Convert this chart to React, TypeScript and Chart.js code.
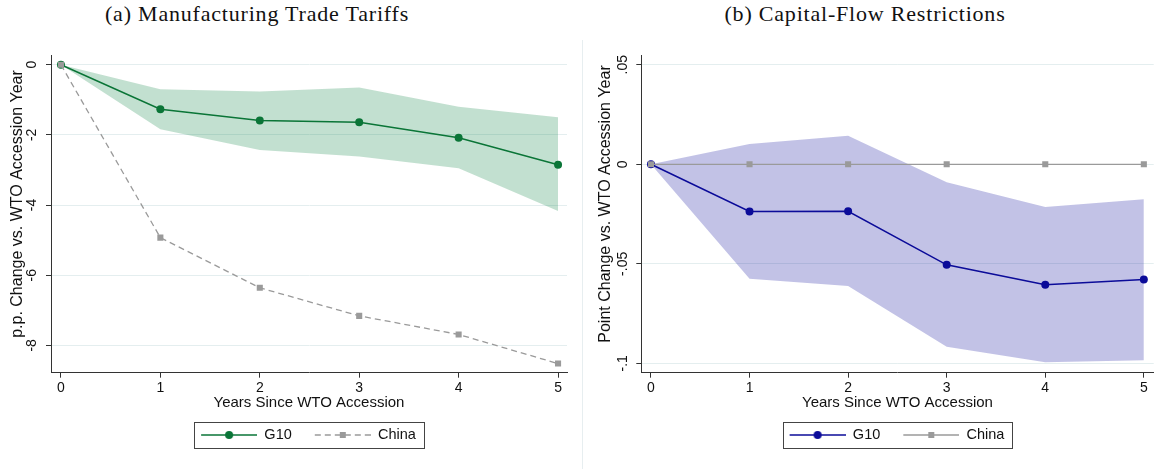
import React, { useEffect, useRef } from 'react';
import { Chart, registerables } from 'chart.js';

Chart.register(...registerables);

// ---------------- data ----------------
const years = [0, 1, 2, 3, 4, 5];

const tariffG10 = [0, -1.27, -1.59, -1.64, -2.08, -2.85];
const tariffG10Upper = [0, -0.7, -0.76, -0.65, -1.2, -1.5];
const tariffG10Lower = [0, -1.84, -2.43, -2.62, -2.95, -4.17];
const tariffChina = [0, -4.93, -6.36, -7.16, -7.69, -8.52];
const tariffTicks = [0, -2, -4, -6, -8];
const tariffTickLabels = ['0', '-2', '-4', '-6', '-8'];

const capitalG10 = [0, -0.0237, -0.0236, -0.0505, -0.0605, -0.0579];
const capitalG10Upper = [0, 0.0102, 0.0143, -0.009, -0.0214, -0.0176];
const capitalG10Lower = [0, -0.0575, -0.0611, -0.0917, -0.0994, -0.0984];
const capitalChina = [0, 0, 0, 0, 0, 0];
const capitalTicks = [0.05, 0, -0.05, -0.1];
const capitalTickLabels = ['.05', '0', '-.05', '-.1'];

const seriesLabels = ['G10', 'China'];
const xTitle = 'Years Since WTO Accession';

// ---------------- style ----------------
const SANS = '"Liberation Sans", Arial, Helvetica, sans-serif';
const SERIF = '"Liberation Serif", "Times New Roman", serif';
const TEXT = '#111111';
const AXIS = '#333333';
const GRID = '#e4eeef';
const GRAY = '#9a9a9a';
const LEGEND_PAD = 15;
const LEGEND_FONT = 14.5;
const MARK_W = 64;

function makeMarker(color: string, dash: number[], shape: 'circle' | 'square') {
  const c = document.createElement('canvas');
  c.width = MARK_W;
  c.height = 12;
  const ctx = c.getContext('2d')!;
  ctx.strokeStyle = color;
  ctx.lineWidth = 1.4;
  ctx.setLineDash(dash);
  ctx.beginPath();
  ctx.moveTo(8, 6);
  ctx.lineTo(MARK_W, 6);
  ctx.stroke();
  ctx.setLineDash([]);
  ctx.fillStyle = color;
  const cx = 8 + (MARK_W - 8) / 2;
  if (shape === 'circle') {
    ctx.beginPath();
    ctx.arc(cx, 6, 4, 0, Math.PI * 2);
    ctx.fill();
  } else {
    ctx.fillRect(cx - 3, 3, 6, 6);
  }
  return c;
}

const legendBoxPlugin = {
  id: 'legendBox',
  afterLayout(chart: any) {
    const lg = chart.legend;
    if (!lg || !lg.lineWidths) return;
    const lw = lg.lineWidths[0];
    const wc = lw - LEGEND_PAD;
    const cx = (chart.chartArea.left + chart.chartArea.right) / 2;
    const start = cx - (wc + 9) / 2;
    const cur = (lg.left + LEGEND_PAD + (lg.right - lw)) / 2;
    const d = start - cur;
    lg.left += d;
    lg.right += d;
  },
  afterDraw(chart: any) {
    const lg = chart.legend;
    if (!lg || !lg.lineWidths) return;
    const lw = lg.lineWidths[0];
    const wc = lw - LEGEND_PAD;
    const start = (lg.left + LEGEND_PAD + (lg.right - lw)) / 2;
    const x0 = Math.round(start + 1) + 0.5;
    const x1 = Math.round(start + wc + 8) + 0.5;
    const cy = lg.top + LEGEND_PAD + LEGEND_FONT / 2;
    const y0 = Math.round(cy - 13) + 0.5;
    const ctx = chart.ctx;
    ctx.save();
    ctx.strokeStyle = '#444';
    ctx.lineWidth = 1;
    ctx.strokeRect(x0, y0, x1 - x0, 26);
    ctx.restore();
  },
};

const yTitlePlugin = {
  id: 'yTitleText',
  afterDraw(chart: any, _args: any, opts: any) {
    if (!opts || !opts.text) return;
    const ctx = chart.ctx;
    ctx.save();
    ctx.translate(opts.x, opts.y);
    ctx.rotate(-Math.PI / 2);
    ctx.font = `16px ${SANS}`;
    ctx.fillStyle = TEXT;
    ctx.textAlign = 'center';
    ctx.textBaseline = 'middle';
    ctx.fillText(opts.text, 0, 0);
    ctx.restore();
  },
};

type PanelProps = {
  left: number;
  width: number;
  title: string;
  titleCenter: number;
  yTitle: string;
  yTitleX: number;
  g10: number[];
  upper: number[];
  lower: number[];
  china: number[];
  yTicks: number[];
  yLabels: string[];
  yMin: number;
  yMax: number;
  xMin: number;
  xMax: number;
  lineColor: string;
  fillColor: string;
  chinaDash: number[];
  yAxisWidth: number;
  padRight: number;
  yTickPad: number;
};

function Panel(p: PanelProps) {
  const ref = useRef<HTMLCanvasElement>(null);
  useEffect(() => {
    if (!ref.current) return;
    const pts = (arr: number[]) => years.map((x, i) => ({ x, y: arr[i] }));
    const font = { family: SANS, size: 14 };
    const g10Marker = makeMarker(p.lineColor, [], 'circle');
    const chinaMarker = makeMarker(GRAY, p.chinaDash, 'square');
    const chart = new Chart(ref.current, {
      type: 'line',
      data: {
        datasets: [
          {
            label: seriesLabels[0],
            data: pts(p.g10),
            borderColor: p.lineColor,
            backgroundColor: p.lineColor,
            borderWidth: 1.5,
            pointRadius: 4,
            pointStyle: 'circle',
            pointBorderWidth: 0,
            fill: false,
            order: 1,
          },
          {
            label: seriesLabels[1],
            data: pts(p.china),
            borderColor: GRAY,
            backgroundColor: GRAY,
            borderWidth: 1.3,
            borderDash: p.chinaDash,
            pointRadius: 4.3,
            pointStyle: 'rect',
            pointBorderWidth: 0,
            fill: false,
            order: 0,
          },
          {
            label: 'lower',
            data: pts(p.lower),
            borderColor: 'rgba(0,0,0,0)',
            borderWidth: 1,
            pointRadius: 0,
            fill: false,
            order: 2,
          },
          {
            label: 'upper',
            data: pts(p.upper),
            borderColor: 'rgba(0,0,0,0)',
            backgroundColor: p.fillColor,
            borderWidth: 1,
            pointRadius: 0,
            fill: '-1',
            order: 3,
          },
        ],
      } as any,
      options: {
        animation: false,
        responsive: false,
        devicePixelRatio: 1,
        events: [],
        layout: { padding: { left: 0, right: p.padRight, top: 55, bottom: 16.8 } },
        plugins: {
          title: { display: false },
          yTitleText: { text: p.yTitle, x: p.yTitleX, y: 204 },
          legend: {
            display: true,
            position: 'bottom',
            labels: {
              usePointStyle: true,
              pointStyleWidth: MARK_W,
              padding: LEGEND_PAD,
              color: TEXT,
              font: { family: SANS, size: LEGEND_FONT },
              generateLabels: () => [
                {
                  text: seriesLabels[0],
                  pointStyle: g10Marker,
                  datasetIndex: 0,
                  hidden: false,
                  fontColor: TEXT,
                  lineWidth: 0,
                  fillStyle: p.lineColor,
                  strokeStyle: p.lineColor,
                },
                {
                  text: seriesLabels[1],
                  pointStyle: chinaMarker,
                  datasetIndex: 1,
                  hidden: false,
                  fontColor: TEXT,
                  lineWidth: 0,
                  fillStyle: GRAY,
                  strokeStyle: GRAY,
                },
              ],
            },
          },
          tooltip: { enabled: false },
        },
        scales: {
          x: {
            type: 'linear',
            min: p.xMin,
            max: p.xMax,
            afterBuildTicks: (s: any) => {
              s.ticks = years.map((v) => ({ value: v }));
            },
            afterFit: (s: any) => {
              s.height = 40;
            },
            ticks: {
              font,
              color: TEXT,
              padding: 2,
              maxRotation: 0,
              autoSkip: false,
              callback: (v: any) => String(v),
            },
            grid: {
              drawOnChartArea: false,
              drawTicks: true,
              tickLength: 5,
              tickColor: AXIS,
              tickWidth: 1,
            },
            border: { color: AXIS, width: 1 },
            title: {
              display: true,
              text: xTitle,
              color: TEXT,
              font: { family: SANS, size: 15 },
              padding: { top: 0, bottom: 1 },
            },
          },
          y: {
            type: 'linear',
            min: p.yMin,
            max: p.yMax,
            afterBuildTicks: (s: any) => {
              s.ticks = p.yTicks.map((v) => ({ value: v }));
            },
            afterFit: (s: any) => {
              s.width = p.yAxisWidth;
            },
            ticks: {
              font,
              color: TEXT,
              padding: p.yTickPad,
              minRotation: 90,
              maxRotation: 90,
              crossAlign: 'center',
              autoSkip: false,
              callback: (_v: any, i: number) => p.yLabels[i],
            },
            grid: {
              color: GRID,
              lineWidth: 1,
              drawTicks: true,
              tickLength: 5,
              tickColor: AXIS,
              tickWidth: 1,
            },
            border: { color: AXIS, width: 1 },
            title: { display: false },
          },
        },
      } as any,
      plugins: [legendBoxPlugin, yTitlePlugin],
    });
    return () => chart.destroy();
  }, []);
  return (
    <>
      <div
        style={{
          position: 'absolute',
          left: p.left + p.titleCenter - 250,
          top: 0,
          width: 500,
          height: 28,
          lineHeight: '28px',
          textAlign: 'center',
          fontFamily: SERIF,
          fontSize: 22,
          letterSpacing: '0.8px',
          color: TEXT,
          whiteSpace: 'nowrap',
        }}
      >
        {p.title}
      </div>
      <canvas
        ref={ref}
        width={p.width}
        height={469}
        style={{ position: 'absolute', left: p.left, top: 0, width: p.width, height: 469 }}
      />
    </>
  );
}

export default function App() {
  return (
    <div
      style={{
        position: 'fixed',
        left: 0,
        top: 0,
        width: 1158,
        height: 469,
        background: '#ffffff',
        overflow: 'hidden',
      }}
    >
      <Panel
        left={0}
        width={580}
        title="(a) Manufacturing Trade Tariffs"
        titleCenter={257}
        yTitle="p.p. Change vs. WTO Accession Year"
        yTitleX={18}
        g10={tariffG10}
        upper={tariffG10Upper}
        lower={tariffG10Lower}
        china={tariffChina}
        yTicks={tariffTicks}
        yLabels={tariffTickLabels}
        yMin={-8.78}
        yMax={0.277}
        xMin={-0.1}
        xMax={5.09}
        lineColor="#0a7537"
        fillColor="rgba(0,125,60,0.24)"
        chinaDash={[6, 4]}
        yAxisWidth={51}
        padRight={13}
        yTickPad={8}
      />
      <div
        style={{
          position: 'absolute',
          left: 582,
          top: 40,
          width: 1,
          height: 429,
          background: '#e7eef0',
        }}
      />
      <Panel
        left={583}
        width={575}
        title="(b) Capital-Flow Restrictions"
        titleCenter={282}
        yTitle="Point Change vs. WTO Accession Year"
        yTitleX={23}
        g10={capitalG10}
        upper={capitalG10Upper}
        lower={capitalG10Lower}
        china={capitalChina}
        yTicks={capitalTicks}
        yLabels={capitalTickLabels}
        yMin={-0.1047}
        yMax={0.0549}
        xMin={-0.098}
        xMax={5.1}
        lineColor="#0b0b99"
        fillColor="rgba(20,20,160,0.26)"
        chinaDash={[]}
        yAxisWidth={58.3}
        padRight={0}
        yTickPad={1}
      />
    </div>
  );
}
